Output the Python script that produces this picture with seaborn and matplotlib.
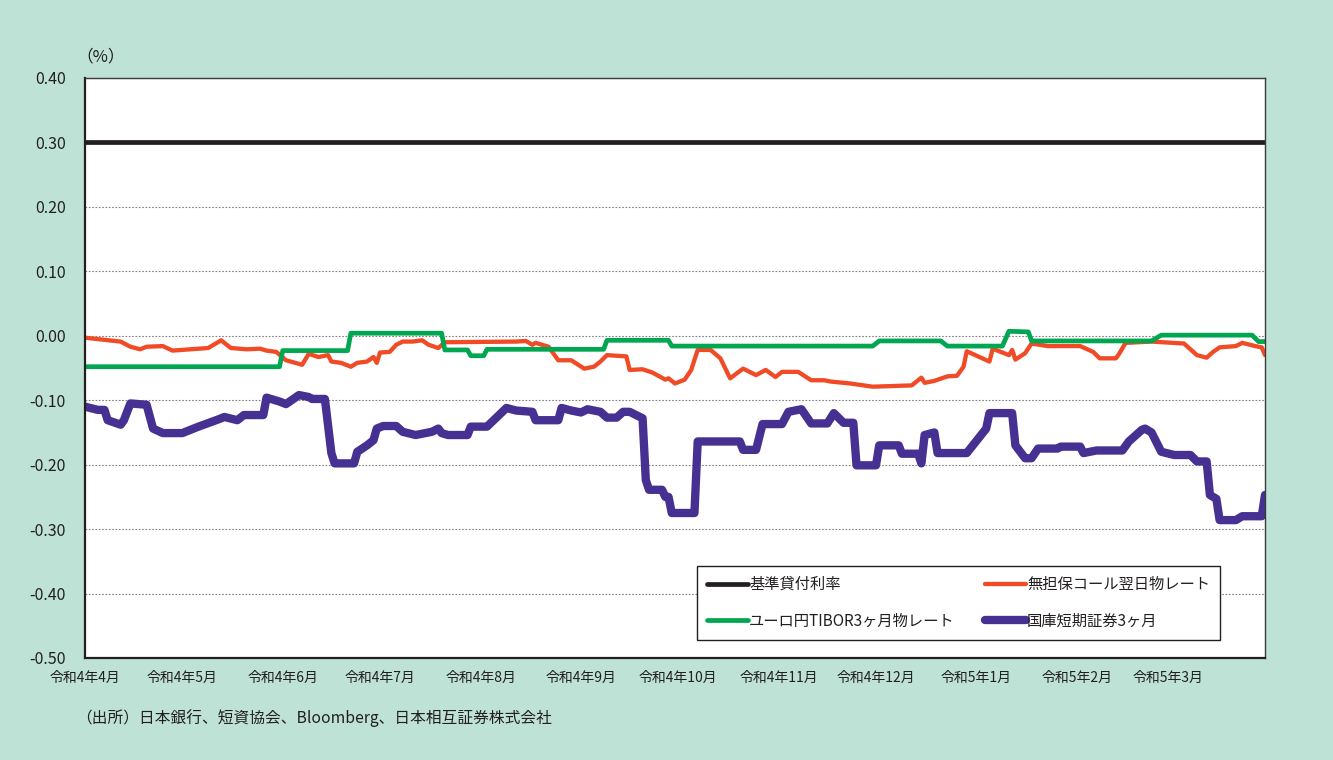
import matplotlib
matplotlib.use("Agg")
import matplotlib.pyplot as plt
import pandas as pd
import seaborn as sns

# 基準貸付利率
base_dates = ["2022-04-01", "2023-03-31"]
base_rate = [0.30, 0.30]

# 無担保コール翌日物レート
call_dates = [
    "2022-04-01", "2022-04-12", "2022-04-15", "2022-04-18", "2022-04-20", "2022-04-25",
    "2022-04-28", "2022-05-09", "2022-05-13", "2022-05-16", "2022-05-21", "2022-05-25",
    "2022-05-27", "2022-05-30", "2022-06-02", "2022-06-07", "2022-06-09", "2022-06-12",
    "2022-06-15", "2022-06-16", "2022-06-19", "2022-06-22", "2022-06-24", "2022-06-27",
    "2022-06-29", "2022-06-30", "2022-07-01", "2022-07-04", "2022-07-06", "2022-07-08",
    "2022-07-11", "2022-07-14", "2022-07-16", "2022-07-19", "2022-07-21", "2022-08-12",
    "2022-08-15", "2022-08-17", "2022-08-18", "2022-08-22", "2022-08-25", "2022-08-29",
    "2022-09-02", "2022-09-05", "2022-09-07", "2022-09-09", "2022-09-15", "2022-09-16",
    "2022-09-20", "2022-09-23", "2022-09-27", "2022-09-28", "2022-09-30", "2022-10-03",
    "2022-10-05", "2022-10-07", "2022-10-11", "2022-10-14", "2022-10-17", "2022-10-21",
    "2022-10-25", "2022-10-28", "2022-10-31", "2022-11-02", "2022-11-07", "2022-11-11",
    "2022-11-15", "2022-11-17", "2022-11-23", "2022-11-30", "2022-12-06", "2022-12-12",
    "2022-12-15", "2022-12-16", "2022-12-19", "2022-12-23", "2022-12-26", "2022-12-28",
    "2022-12-29", "2023-01-05", "2023-01-06", "2023-01-11", "2023-01-12", "2023-01-13",
    "2023-01-16", "2023-01-18", "2023-01-23", "2023-02-02", "2023-02-06", "2023-02-08",
    "2023-02-13", "2023-02-14", "2023-02-16", "2023-02-24", "2023-03-06", "2023-03-10",
    "2023-03-13", "2023-03-15", "2023-03-17", "2023-03-22", "2023-03-24", "2023-03-28",
    "2023-03-30", "2023-03-31",
]
call_rate = [
    -0.003, -0.009, -0.017, -0.021, -0.017, -0.016,
    -0.023, -0.019, -0.007, -0.019, -0.021, -0.020,
    -0.023, -0.025, -0.038, -0.045, -0.028, -0.033,
    -0.030, -0.040, -0.042, -0.048, -0.042, -0.040,
    -0.033, -0.042, -0.026, -0.025, -0.014, -0.009,
    -0.009, -0.007, -0.014, -0.019, -0.010, -0.009,
    -0.008, -0.014, -0.011, -0.017, -0.038, -0.038,
    -0.051, -0.048, -0.040, -0.030, -0.032, -0.053,
    -0.052, -0.057, -0.068, -0.066, -0.074, -0.068,
    -0.053, -0.022, -0.022, -0.035, -0.066, -0.051,
    -0.061, -0.053, -0.064, -0.056, -0.056, -0.069,
    -0.069, -0.071, -0.074, -0.079, -0.078, -0.077,
    -0.065, -0.073, -0.070, -0.063, -0.062, -0.048,
    -0.024, -0.040, -0.020, -0.030, -0.022, -0.037,
    -0.027, -0.012, -0.016, -0.016, -0.025, -0.035,
    -0.035, -0.028, -0.011, -0.009, -0.012, -0.030,
    -0.034, -0.025, -0.018, -0.016, -0.011, -0.016,
    -0.018, -0.030,
]

# ユーロ円TIBOR3ヶ月物レート
tibor_dates = [
    "2022-04-01", "2022-05-31", "2022-06-01", "2022-06-21", "2022-06-22", "2022-07-20",
    "2022-07-21", "2022-07-28", "2022-07-29", "2022-08-02", "2022-08-03", "2022-09-08",
    "2022-09-09", "2022-09-28", "2022-09-29", "2022-11-30", "2022-12-02", "2022-12-21",
    "2022-12-23", "2023-01-09", "2023-01-11", "2023-01-17", "2023-01-18", "2023-02-24",
    "2023-02-27", "2023-03-27", "2023-03-29", "2023-03-31",
]
tibor_rate = [
    -0.048, -0.048, -0.023, -0.023, 0.004, 0.004,
    -0.022, -0.022, -0.031, -0.031, -0.021, -0.021,
    -0.007, -0.007, -0.016, -0.016, -0.008, -0.008,
    -0.016, -0.016, 0.007, 0.006, -0.008, -0.008,
    0.001, 0.001, -0.009, -0.009,
]

# 国庫短期証券3ヶ月
tbill_dates = [
    "2022-04-01", "2022-04-05", "2022-04-07", "2022-04-08", "2022-04-12", "2022-04-13",
    "2022-04-15", "2022-04-20", "2022-04-22", "2022-04-25", "2022-05-01", "2022-05-06",
    "2022-05-12", "2022-05-14", "2022-05-18", "2022-05-20", "2022-05-26", "2022-05-27",
    "2022-05-31", "2022-06-02", "2022-06-06", "2022-06-09", "2022-06-10", "2022-06-14",
    "2022-06-16", "2022-06-17", "2022-06-23", "2022-06-24", "2022-06-27", "2022-06-29",
    "2022-06-30", "2022-07-02", "2022-07-06", "2022-07-08", "2022-07-12", "2022-07-17",
    "2022-07-19", "2022-07-20", "2022-07-22", "2022-07-28", "2022-07-29", "2022-08-03",
    "2022-08-09", "2022-08-12", "2022-08-17", "2022-08-18", "2022-08-25", "2022-08-26",
    "2022-08-29", "2022-09-01", "2022-09-03", "2022-09-07", "2022-09-09", "2022-09-12",
    "2022-09-14", "2022-09-16", "2022-09-20", "2022-09-21", "2022-09-22", "2022-09-26",
    "2022-09-27", "2022-09-28", "2022-09-29", "2022-10-06", "2022-10-07", "2022-10-20",
    "2022-10-21", "2022-10-25", "2022-10-27", "2022-11-02", "2022-11-04", "2022-11-08",
    "2022-11-11", "2022-11-16", "2022-11-18", "2022-11-21", "2022-11-24", "2022-11-25",
    "2022-12-01", "2022-12-02", "2022-12-08", "2022-12-09", "2022-12-14", "2022-12-15",
    "2022-12-16", "2022-12-19", "2022-12-20", "2022-12-29", "2023-01-04", "2023-01-05",
    "2023-01-12", "2023-01-13", "2023-01-16", "2023-01-18", "2023-01-20", "2023-01-26",
    "2023-01-27", "2023-02-02", "2023-02-03", "2023-02-07", "2023-02-15", "2023-02-17",
    "2023-02-21", "2023-02-22", "2023-02-24", "2023-02-27", "2023-03-03", "2023-03-08",
    "2023-03-10", "2023-03-13", "2023-03-14", "2023-03-16", "2023-03-17", "2023-03-22",
    "2023-03-24", "2023-03-29", "2023-03-30", "2023-03-31",
]
tbill_rate = [
    -0.110, -0.115, -0.115, -0.131, -0.138, -0.131,
    -0.105, -0.107, -0.144, -0.151, -0.151, -0.141,
    -0.130, -0.126, -0.131, -0.123, -0.123, -0.096,
    -0.102, -0.106, -0.092, -0.095, -0.098, -0.098,
    -0.182, -0.198, -0.198, -0.180, -0.170, -0.162,
    -0.144, -0.140, -0.140, -0.149, -0.154, -0.149,
    -0.144, -0.151, -0.154, -0.154, -0.141, -0.141,
    -0.112, -0.116, -0.118, -0.131, -0.131, -0.112,
    -0.116, -0.119, -0.114, -0.118, -0.127, -0.127,
    -0.118, -0.118, -0.128, -0.224, -0.239, -0.239,
    -0.250, -0.250, -0.275, -0.275, -0.164, -0.164,
    -0.177, -0.177, -0.137, -0.137, -0.118, -0.114,
    -0.136, -0.136, -0.120, -0.135, -0.135, -0.201,
    -0.201, -0.170, -0.170, -0.183, -0.183, -0.198,
    -0.154, -0.150, -0.182, -0.182, -0.144, -0.120,
    -0.120, -0.170, -0.190, -0.190, -0.175, -0.175,
    -0.172, -0.172, -0.182, -0.178, -0.178, -0.164,
    -0.146, -0.144, -0.150, -0.180, -0.185, -0.185,
    -0.195, -0.195, -0.247, -0.253, -0.286, -0.286,
    -0.280, -0.280, -0.280, -0.247,
]

month_starts = ["2022-04-01", "2022-05-01", "2022-06-01", "2022-07-01", "2022-08-01",
                "2022-09-01", "2022-10-01", "2022-11-01", "2022-12-01", "2023-01-01",
                "2023-02-01", "2023-03-01"]
month_labels = ["令和4年4月", "令和4年5月", "令和4年6月", "令和4年7月", "令和4年8月",
                "令和4年9月", "令和4年10月", "令和4年11月", "令和4年12月", "令和5年1月",
                "令和5年2月", "令和5年3月"]
y_ticks = [-0.5, -0.4, -0.3, -0.2, -0.1, 0.0, 0.1, 0.2, 0.3, 0.4]
y_labels = ["-0.50", "-0.40", "-0.30", "-0.20", "-0.10", "0.00", "0.10", "0.20", "0.30", "0.40"]

BG = "#bee2d6"
TXT = "#231f20"

sns.set_style("white")
plt.rcParams['font.family'] = ['Noto Sans CJK JP', 'DejaVu Sans']

fig = plt.figure(figsize=(13.33, 7.6), dpi=100, facecolor=BG)
ax = fig.add_axes([85 / 1333, 102 / 760, 1180 / 1333, 580 / 760])
ax.set_facecolor("white")

# (名前, 日付, 値, 色, 線幅) - 描画順 = 重なり順
series = [
    ("基準貸付利率", base_dates, base_rate, "#231f20", 3.4),
    ("無担保コール翌日物レート", call_dates, call_rate, "#f04b26", 3.1),
    ("ユーロ円TIBOR3ヶ月物レート", tibor_dates, tibor_rate, "#00a650", 3.4),
    ("国庫短期証券3ヶ月", tbill_dates, tbill_rate, "#463092", 6.0),
]

for name, dates, vals, color, lw in series:
    d = pd.DataFrame({'date': pd.to_datetime(dates), 'value': vals})
    sns.lineplot(data=d, x='date', y='value', color=color, linewidth=lw,
                 estimator=None, sort=False, ax=ax, label=name,
                 solid_joinstyle='round')

ax.set_xlim(pd.Timestamp("2022-04-01"), pd.Timestamp("2023-03-31"))
ax.set_ylim(-0.5, 0.4)
ax.set_xlabel("")
ax.set_ylabel("")

ax.set_xticks(pd.to_datetime(month_starts))
ax.set_xticklabels(month_labels, fontsize=10, color=TXT)
ax.set_yticks(y_ticks)
ax.set_yticklabels(y_labels, fontsize=11.5, color=TXT)
ax.tick_params(axis='x', length=0, pad=9)
ax.tick_params(axis='y', length=0, pad=14)

ax.yaxis.grid(True, linestyle=(0, (1.5, 1.5)), color="#808080", linewidth=0.8)
ax.xaxis.grid(False)
ax.set_axisbelow(True)

for side in ['left', 'bottom']:
    ax.spines[side].set_color("#231f20")
    ax.spines[side].set_linewidth(1.6)
for side in ['top', 'right']:
    ax.spines[side].set_color("#3a3a3a")
    ax.spines[side].set_linewidth(1.0)

# 凡例 (2列, 行ごとに 黒・赤 / 緑・紫)
handles, labels = ax.get_legend_handles_labels()
order = [0, 2, 1, 3]
leg = ax.legend([handles[i] for i in order], [labels[i] for i in order],
                ncol=2, loc='upper left',
                bbox_to_anchor=(697 / 1333, 1 - 566 / 760), bbox_transform=fig.transFigure,
                frameon=True, fancybox=False, edgecolor="#231f20", facecolor="white",
                framealpha=1, fontsize=11, handlelength=2.7, handletextpad=0.05,
                columnspacing=2.0, labelspacing=1.3, borderpad=0.65, borderaxespad=0)
leg.get_frame().set_linewidth(1.0)
for t in leg.get_texts():
    t.set_color(TXT)

fig.text(76 / 1333, 1 - 57 / 760, "（%）", fontsize=12, color=TXT, va='center', ha='left')
fig.text(76 / 1333, 1 - 718 / 760, "（出所）日本銀行、短資協会、Bloomberg、日本相互証券株式会社",
         fontsize=11.3, color=TXT, va='center', ha='left')

fig.savefig("out.png", dpi=100, facecolor=BG)
